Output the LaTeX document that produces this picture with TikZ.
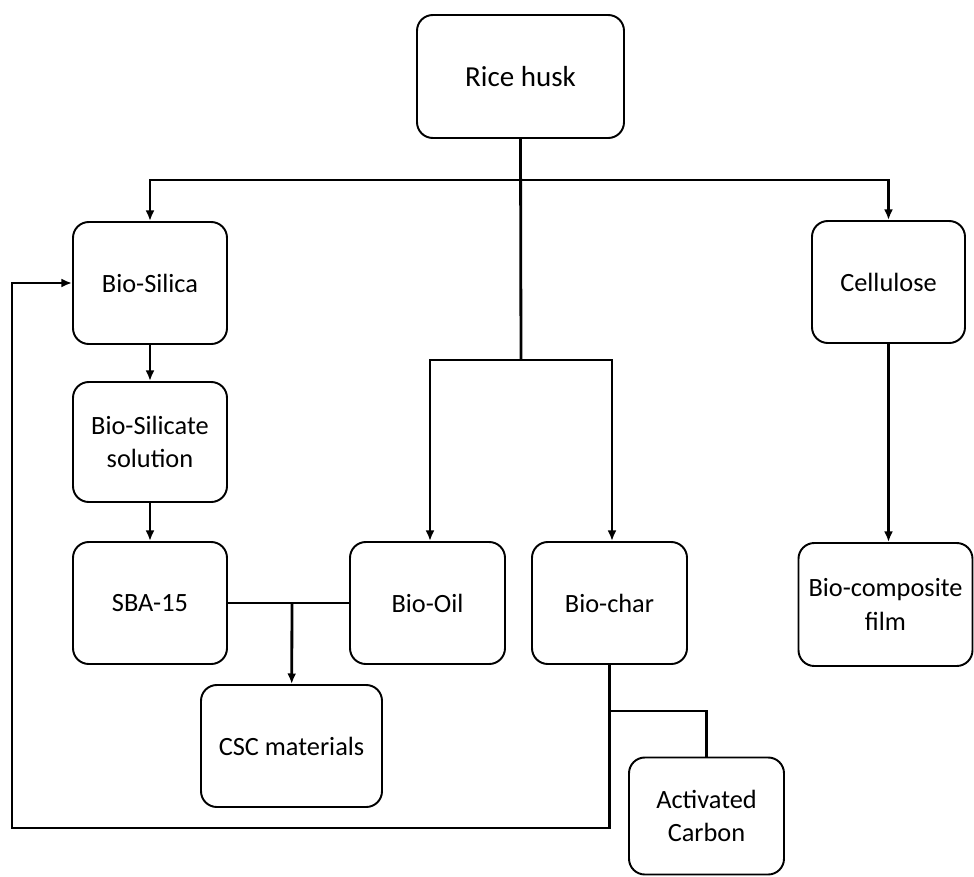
\documentclass[tikz,border=0pt]{standalone}
\usepackage{fontspec}
\setmainfont{Carlito}
\usetikzlibrary{arrows.meta}
\begin{document}
\begin{tikzpicture}[x=0.02cm,y=-0.02cm,
  box/.style={draw,line width=1.1pt,rounded corners=9pt,align=center,inner sep=0pt,
    font=\fontsize{15}{19}\selectfont},
  conn/.style={line width=1.6pt},
  arr/.style={conn,-{Latex[length=6pt,width=5pt]}}]
\useasboundingbox (0,0) rectangle (974,876);
\node[box,minimum width=207*0.02cm,minimum height=123*0.02cm,font=\fontsize{16.5}{19}\selectfont] (rice) at (520.5,76.5) {Rice husk};
\node[box,minimum width=154*0.02cm,minimum height=122*0.02cm] (silica) at (150,283) {Bio-Silica};
\node[box,minimum width=154*0.02cm,minimum height=120*0.02cm] (silicate) at (150,442) {Bio-Silicate\\solution};
\node[box,minimum width=154*0.02cm,minimum height=122*0.02cm] (sba) at (150,603) {SBA-15};
\node[box,minimum width=155*0.02cm,minimum height=122*0.02cm] (oil) at (427.5,603) {Bio-Oil};
\node[box,minimum width=155*0.02cm,minimum height=122*0.02cm] (char) at (609.5,603) {Bio-char};
\node[box,minimum width=181*0.02cm,minimum height=122*0.02cm] (csc) at (291.5,746) {CSC materials};
\node[box,minimum width=155*0.02cm,minimum height=117*0.02cm] (ac) at (706.5,816) {Activated\\Carbon};
\node[box,minimum width=153*0.02cm,minimum height=122*0.02cm] (cell) at (888.5,282) {Cellulose};
\node[box,minimum width=174*0.02cm,minimum height=123*0.02cm] (film) at (885.5,604.5) {Bio-composite\\film};
\coordinate (j1) at (521,180);
\coordinate (j2) at (521,360);
\coordinate (j3) at (292,603);
\coordinate (j4) at (610,711);
\coordinate (fb) at (12,828);
\draw[conn] (rice.south) -- (j2);
\draw[arr] (j1) -| (silica.north);
\draw[arr] (j1) -| (cell.north);
\draw[arr] (j2) -| ([xshift=0.05cm]oil.north);
\draw[arr] (j2) -| ([xshift=0.05cm]char.north);
\draw[arr] (silica) -- (silicate);
\draw[arr] (silicate) -- (sba);
\draw[conn] (sba) -- (oil);
\draw[arr] (j3) -- (csc);
\draw[arr] (cell.south) -- (cell.south |- film.north);
\draw[conn] (j4) -| (ac.north);
\draw[arr] (char.south) |- (fb) |- (silica.west);
\end{tikzpicture}
\end{document}
